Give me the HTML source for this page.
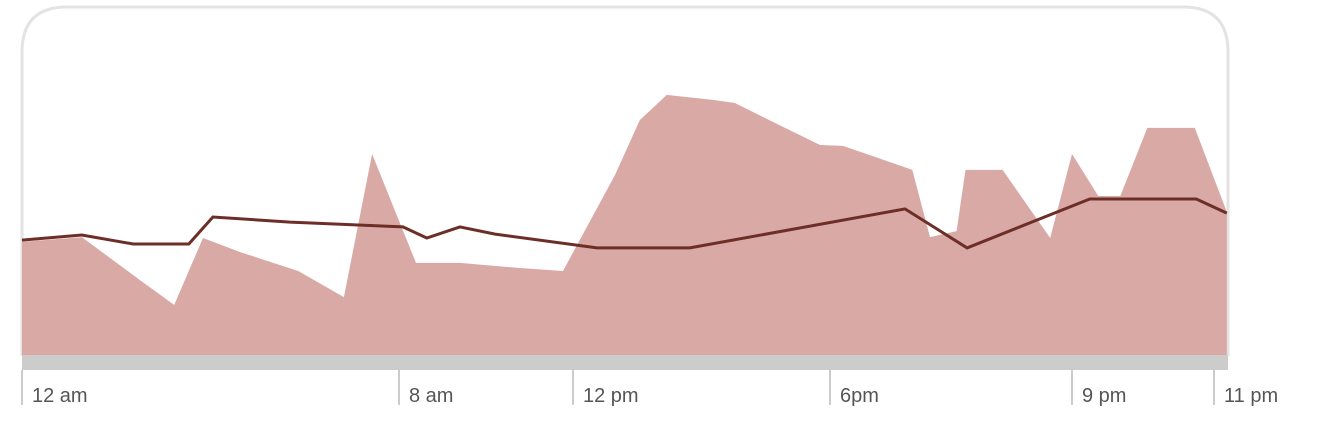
<!DOCTYPE html>
<html><head><meta charset="utf-8"><style>
html,body{margin:0;padding:0;background:#fff;width:1320px;height:424px;overflow:hidden}
svg{display:block}
text{font-family:"Liberation Sans",sans-serif;font-size:20px;fill:#555}
</style></head><body>
<svg id="chart" width="1320" height="424" viewBox="0 0 1320 424">
<path d="M22,356 L22,52 Q22,7 67,7 L1183,7 Q1228,7 1228,52 L1228,356" fill="none" stroke="#e3e3e3" stroke-width="3"/>
<g id="area-g"></g>
<g id="line-g"></g>
<rect x="22" y="355" width="1206" height="15" fill="#cccccc"/>
<g id="axis-g"></g>
</svg>
<script>
const areaHours=[0,1.27,2.50,3.23,3.84,4.63,5.86,6.83,7.43,8.39,9.40,10.78,11.77,12.98,13.56,14.19,15.29,15.78,16.95,17.77,18.16,18.53,19.02,19.24,19.57,19.68,20.14,20.73,21,21.37,21.68,22.06,22.73,23.18];
const areaValues=[37.7,39.3,25,16.7,39,34.3,28,19.3,67,30.7,30.7,29,28,60,78.3,86.7,85,84,75.7,70,69.7,66.3,61.7,39.3,41.3,61.7,61.7,39,67,53,53,75.7,75.7,47.7];
const lineHours=[0,1.27,2.36,3.54,4.05,5.69,8.09,8.64,9.40,10.21,12.56,14.73,18.93,19.70,21.25,22.75,23.18];
const lineValues=[38.3,40,37,37,46,44.3,42.7,39,42.7,40.3,35.7,35.7,48.7,35.7,52,52,47.3];
const tickHours=[0,8,12,18,21,23];
const tickLabels=["12 am","8 am","12 pm","6pm","9 pm","11 pm"];
</script>
<script>
const NS="http://www.w3.org/2000/svg";
const anchorsPx=[22,399,573,830,1072,1214];
function xScale(h){
  let i=0;
  while(i<tickHours.length-2&&h>tickHours[i+1])i++;
  const h0=tickHours[i],h1=tickHours[i+1],p0=anchorsPx[i],p1=anchorsPx[i+1];
  return p0+(h-h0)*(p1-p0)/(h1-h0);
}
function yScale(v){return 355-v*3;}
const areaG=document.getElementById('area-g');
let d="M"+xScale(areaHours[0])+",355";
for(let i=0;i<areaHours.length;i++)d+=" L"+xScale(areaHours[i]).toFixed(1)+","+yScale(areaValues[i]).toFixed(1);
d+=" L"+xScale(areaHours[areaHours.length-1]).toFixed(1)+",355 Z";
const area=document.createElementNS(NS,'path');
area.setAttribute('d',d);area.setAttribute('fill','#d9a9a6');


areaG.appendChild(area);
const lineG=document.getElementById('line-g');
let pts=lineHours.map((h,i)=>xScale(h).toFixed(1)+","+yScale(lineValues[i]).toFixed(1)).join(" ");
const line=document.createElementNS(NS,'polyline');
line.setAttribute('points',pts);line.setAttribute('fill','none');
line.setAttribute('stroke','#6e2e28');line.setAttribute('stroke-width','3');


lineG.appendChild(line);
const axisG=document.getElementById('axis-g');
tickHours.forEach((h,i)=>{
  const x=xScale(h);
  const t=document.createElementNS(NS,'line');
  t.setAttribute('x1',x);t.setAttribute('x2',x);t.setAttribute('y1',370);t.setAttribute('y2',405);
  t.setAttribute('stroke','#cccccc');t.setAttribute('stroke-width','2');
  
  
  axisG.appendChild(t);
  const lb=document.createElementNS(NS,'text');
  lb.setAttribute('x',x+10);lb.setAttribute('y',402);
  lb.textContent=tickLabels[i];
  
  
  axisG.appendChild(lb);
});
</script>
</body></html>
